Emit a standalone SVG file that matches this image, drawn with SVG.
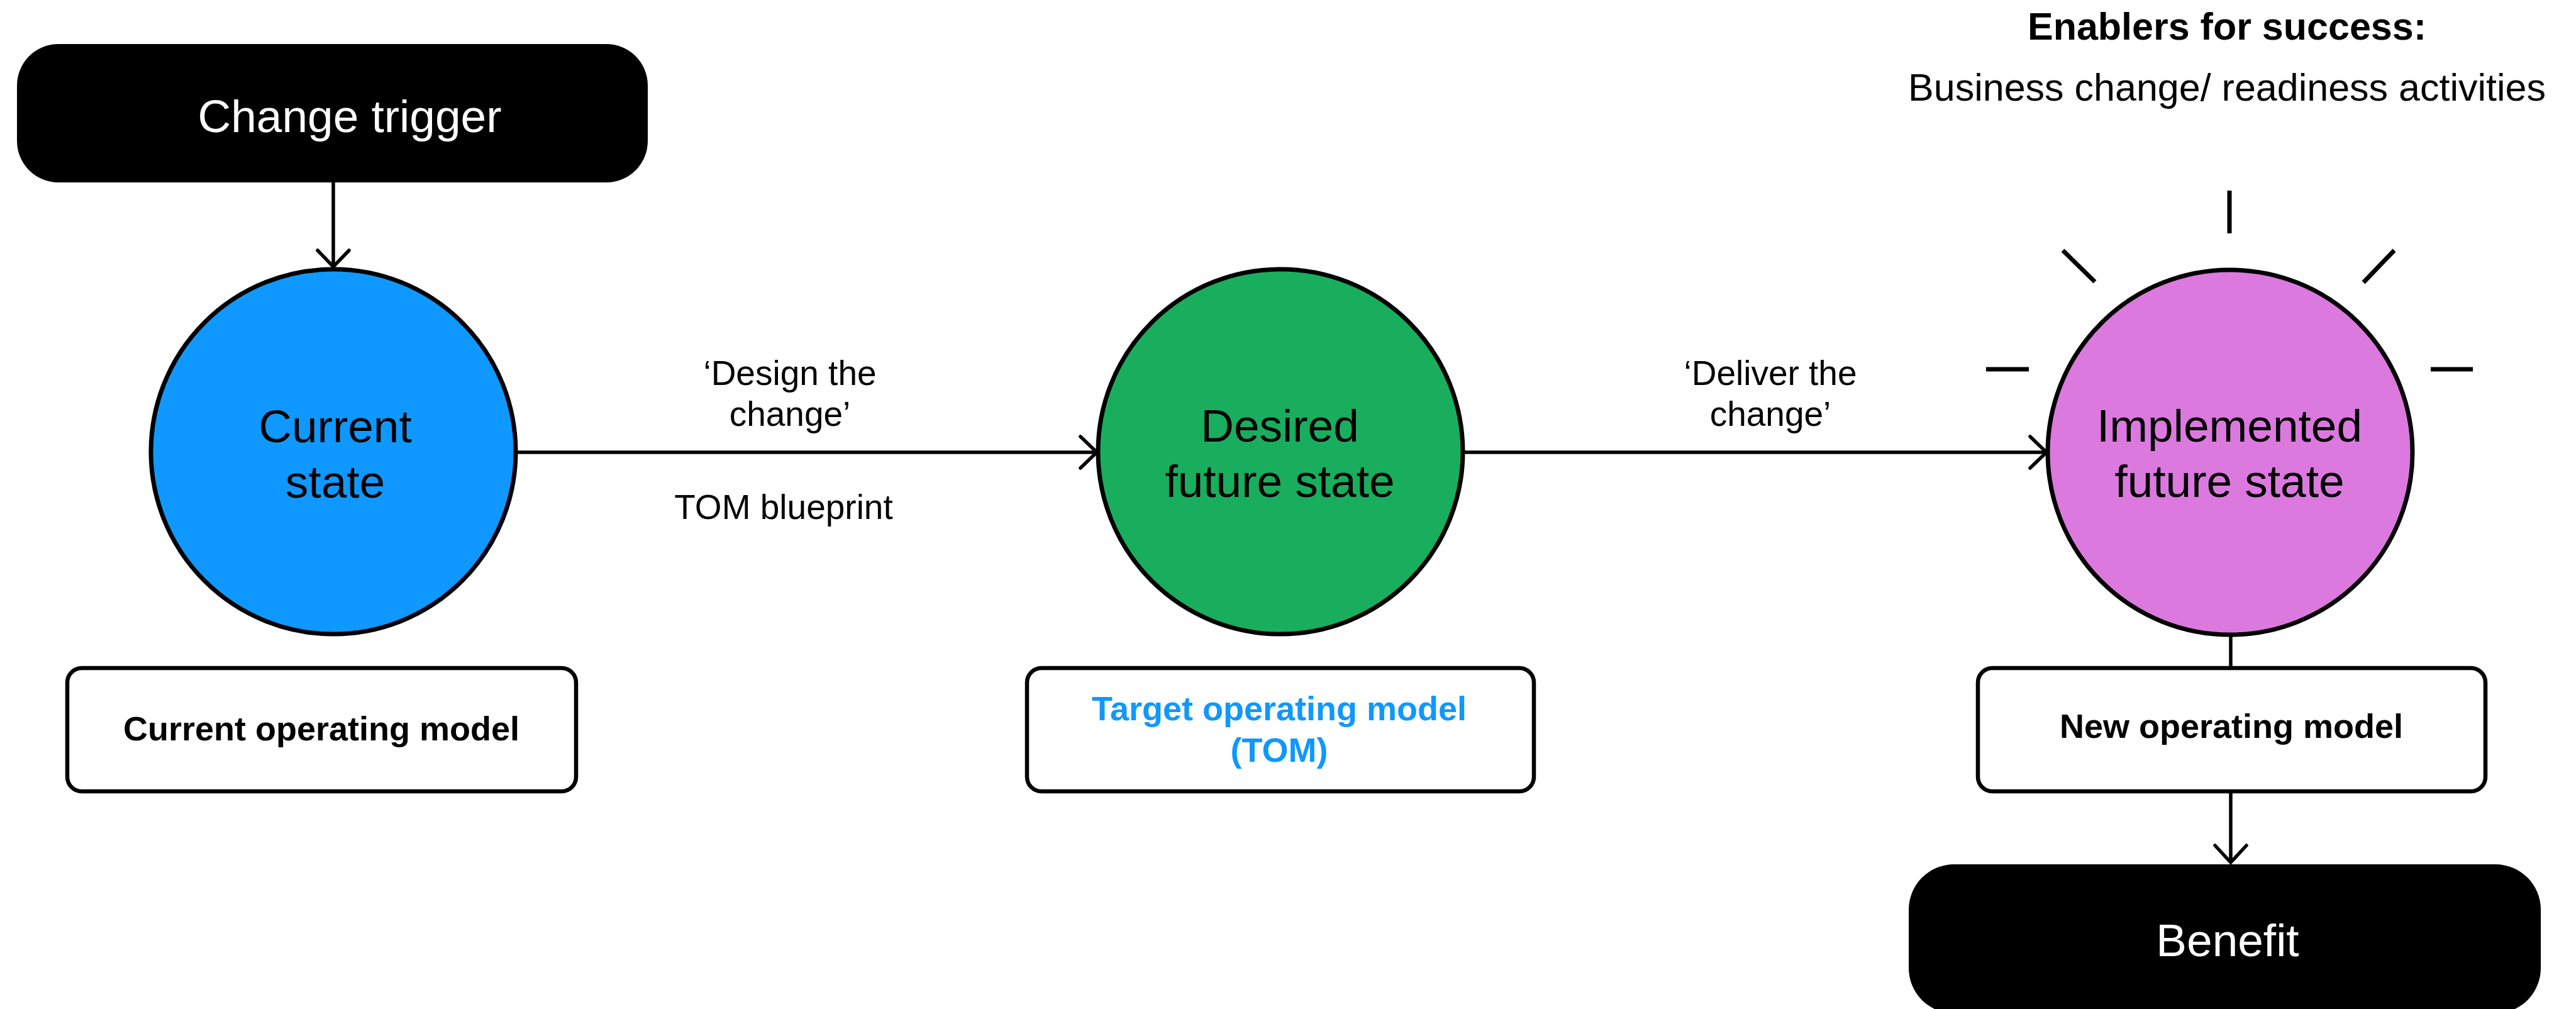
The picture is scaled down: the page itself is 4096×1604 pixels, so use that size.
<svg xmlns="http://www.w3.org/2000/svg" width="4096" height="1604" viewBox="0 0 4096 1604">
  <style>
    text { font-family: "Liberation Sans", Arial, sans-serif; text-anchor: middle; }
    .big { font-size: 73px; }
    .lbl { font-size: 55px; fill: #000; }
    .box-txt { font-size: 54px; font-weight: bold; fill: #000; }
    .white { fill: #fff; }
    .state { stroke: #000; stroke-width: 7; }
    .op-box { fill: #fff; stroke: #000; stroke-width: 6.5; }
    .term { fill: #000; }
    .conn { stroke: #000; stroke-width: 5.5; fill: none; }
    .head { stroke: #000; stroke-width: 5.5; fill: none; stroke-linecap: round; stroke-linejoin: miter; }
    .ray { stroke: #000; stroke-width: 7; stroke-linecap: butt; }
  </style>

  <rect width="4096" height="1604" fill="#fff"/>

  <!-- connectors -->
  <g id="connectors">
    <!-- change trigger to current state -->
    <line class="conn" x1="530" y1="290" x2="530" y2="424"/>
    <polyline class="head" points="505,398 530,424 555,398"/>
    <!-- current state to desired future state -->
    <line class="conn" x1="820" y1="719" x2="1744" y2="719"/>
    <polyline class="head" points="1718,694 1744,719 1718,744"/>
    <!-- desired future state to implemented future state -->
    <line class="conn" x1="2326" y1="719" x2="3254" y2="719"/>
    <polyline class="head" points="3228,694 3254,719 3228,744"/>
    <!-- implemented future state to new operating model -->
    <line class="conn" x1="3547" y1="1008" x2="3547" y2="1062"/>
    <!-- new operating model to benefit -->
    <line class="conn" x1="3547" y1="1258" x2="3547" y2="1371"/>
    <polyline class="head" points="3522,1344 3547,1371 3572,1344"/>
  </g>

  <!-- connector labels -->
  <g id="design-label">
    <text class="lbl" x="1256" y="612">‘Design the</text>
    <text class="lbl" x="1256" y="677">change’</text>
    <text class="lbl" x="1246" y="825">TOM blueprint</text>
  </g>
  <g id="deliver-label">
    <text class="lbl" x="2815" y="612">‘Deliver the</text>
    <text class="lbl" x="2815" y="677">change’</text>
  </g>

  <g id="change-trigger">
    <rect class="term" x="27" y="70" width="1003" height="220" rx="66" ry="66"/>
    <text class="big white" x="556" y="210">Change trigger</text>
  </g>

  <g id="current-state">
    <circle class="state" cx="530" cy="718" r="290" fill="#0F98FF"/>
    <text class="big" x="533" y="703">Current</text>
    <text class="big" x="533" y="791">state</text>
  </g>

  <g id="current-operating-model">
    <rect class="op-box" x="107" y="1062" width="809" height="196" rx="23" ry="23"/>
    <text class="box-txt" x="511" y="1177">Current operating model</text>
  </g>

  <g id="desired-future-state">
    <circle class="state" cx="2036" cy="718" r="290" fill="#18AE5D"/>
    <text class="big" x="2035" y="702">Desired</text>
    <text class="big" x="2035" y="790">future state</text>
  </g>

  <g id="target-operating-model">
    <rect class="op-box" x="1633" y="1062" width="806" height="196" rx="23" ry="23"/>
    <text class="box-txt" x="2034" y="1145" style="fill:#0F98FF">Target operating model</text>
    <text class="box-txt" x="2034" y="1211" style="fill:#0F98FF">(TOM)</text>
  </g>

  <g id="implemented-future-state">
    <g id="rays">
      <line class="ray" x1="3545" y1="303" x2="3545" y2="371"/>
      <line class="ray" x1="3280" y1="398" x2="3331" y2="448"/>
      <line class="ray" x1="3807" y1="398" x2="3758" y2="449"/>
      <line class="ray" x1="3158" y1="587" x2="3226" y2="587"/>
      <line class="ray" x1="3865" y1="587" x2="3932" y2="587"/>
    </g>
    <circle class="state" cx="3546" cy="719" r="290" fill="#DB79DF"/>
    <text class="big" x="3545" y="702">Implemented</text>
    <text class="big" x="3545" y="790">future state</text>
  </g>

  <g id="enablers">
    <text x="3541" y="63" style="font-size:61px;font-weight:bold">Enablers for success:</text>
    <text x="3541" y="160" style="font-size:61px">Business change/ readiness activities</text>
  </g>

  <g id="new-operating-model">
    <rect class="op-box" x="3145" y="1062" width="807" height="196" rx="23" ry="23"/>
    <text class="box-txt" x="3548" y="1173">New operating model</text>
  </g>

  <g id="benefit">
    <rect class="term" x="3035" y="1374" width="1005" height="237" rx="72" ry="72"/>
    <text class="big white" x="3542" y="1520">Benefit</text>
  </g>
</svg>
